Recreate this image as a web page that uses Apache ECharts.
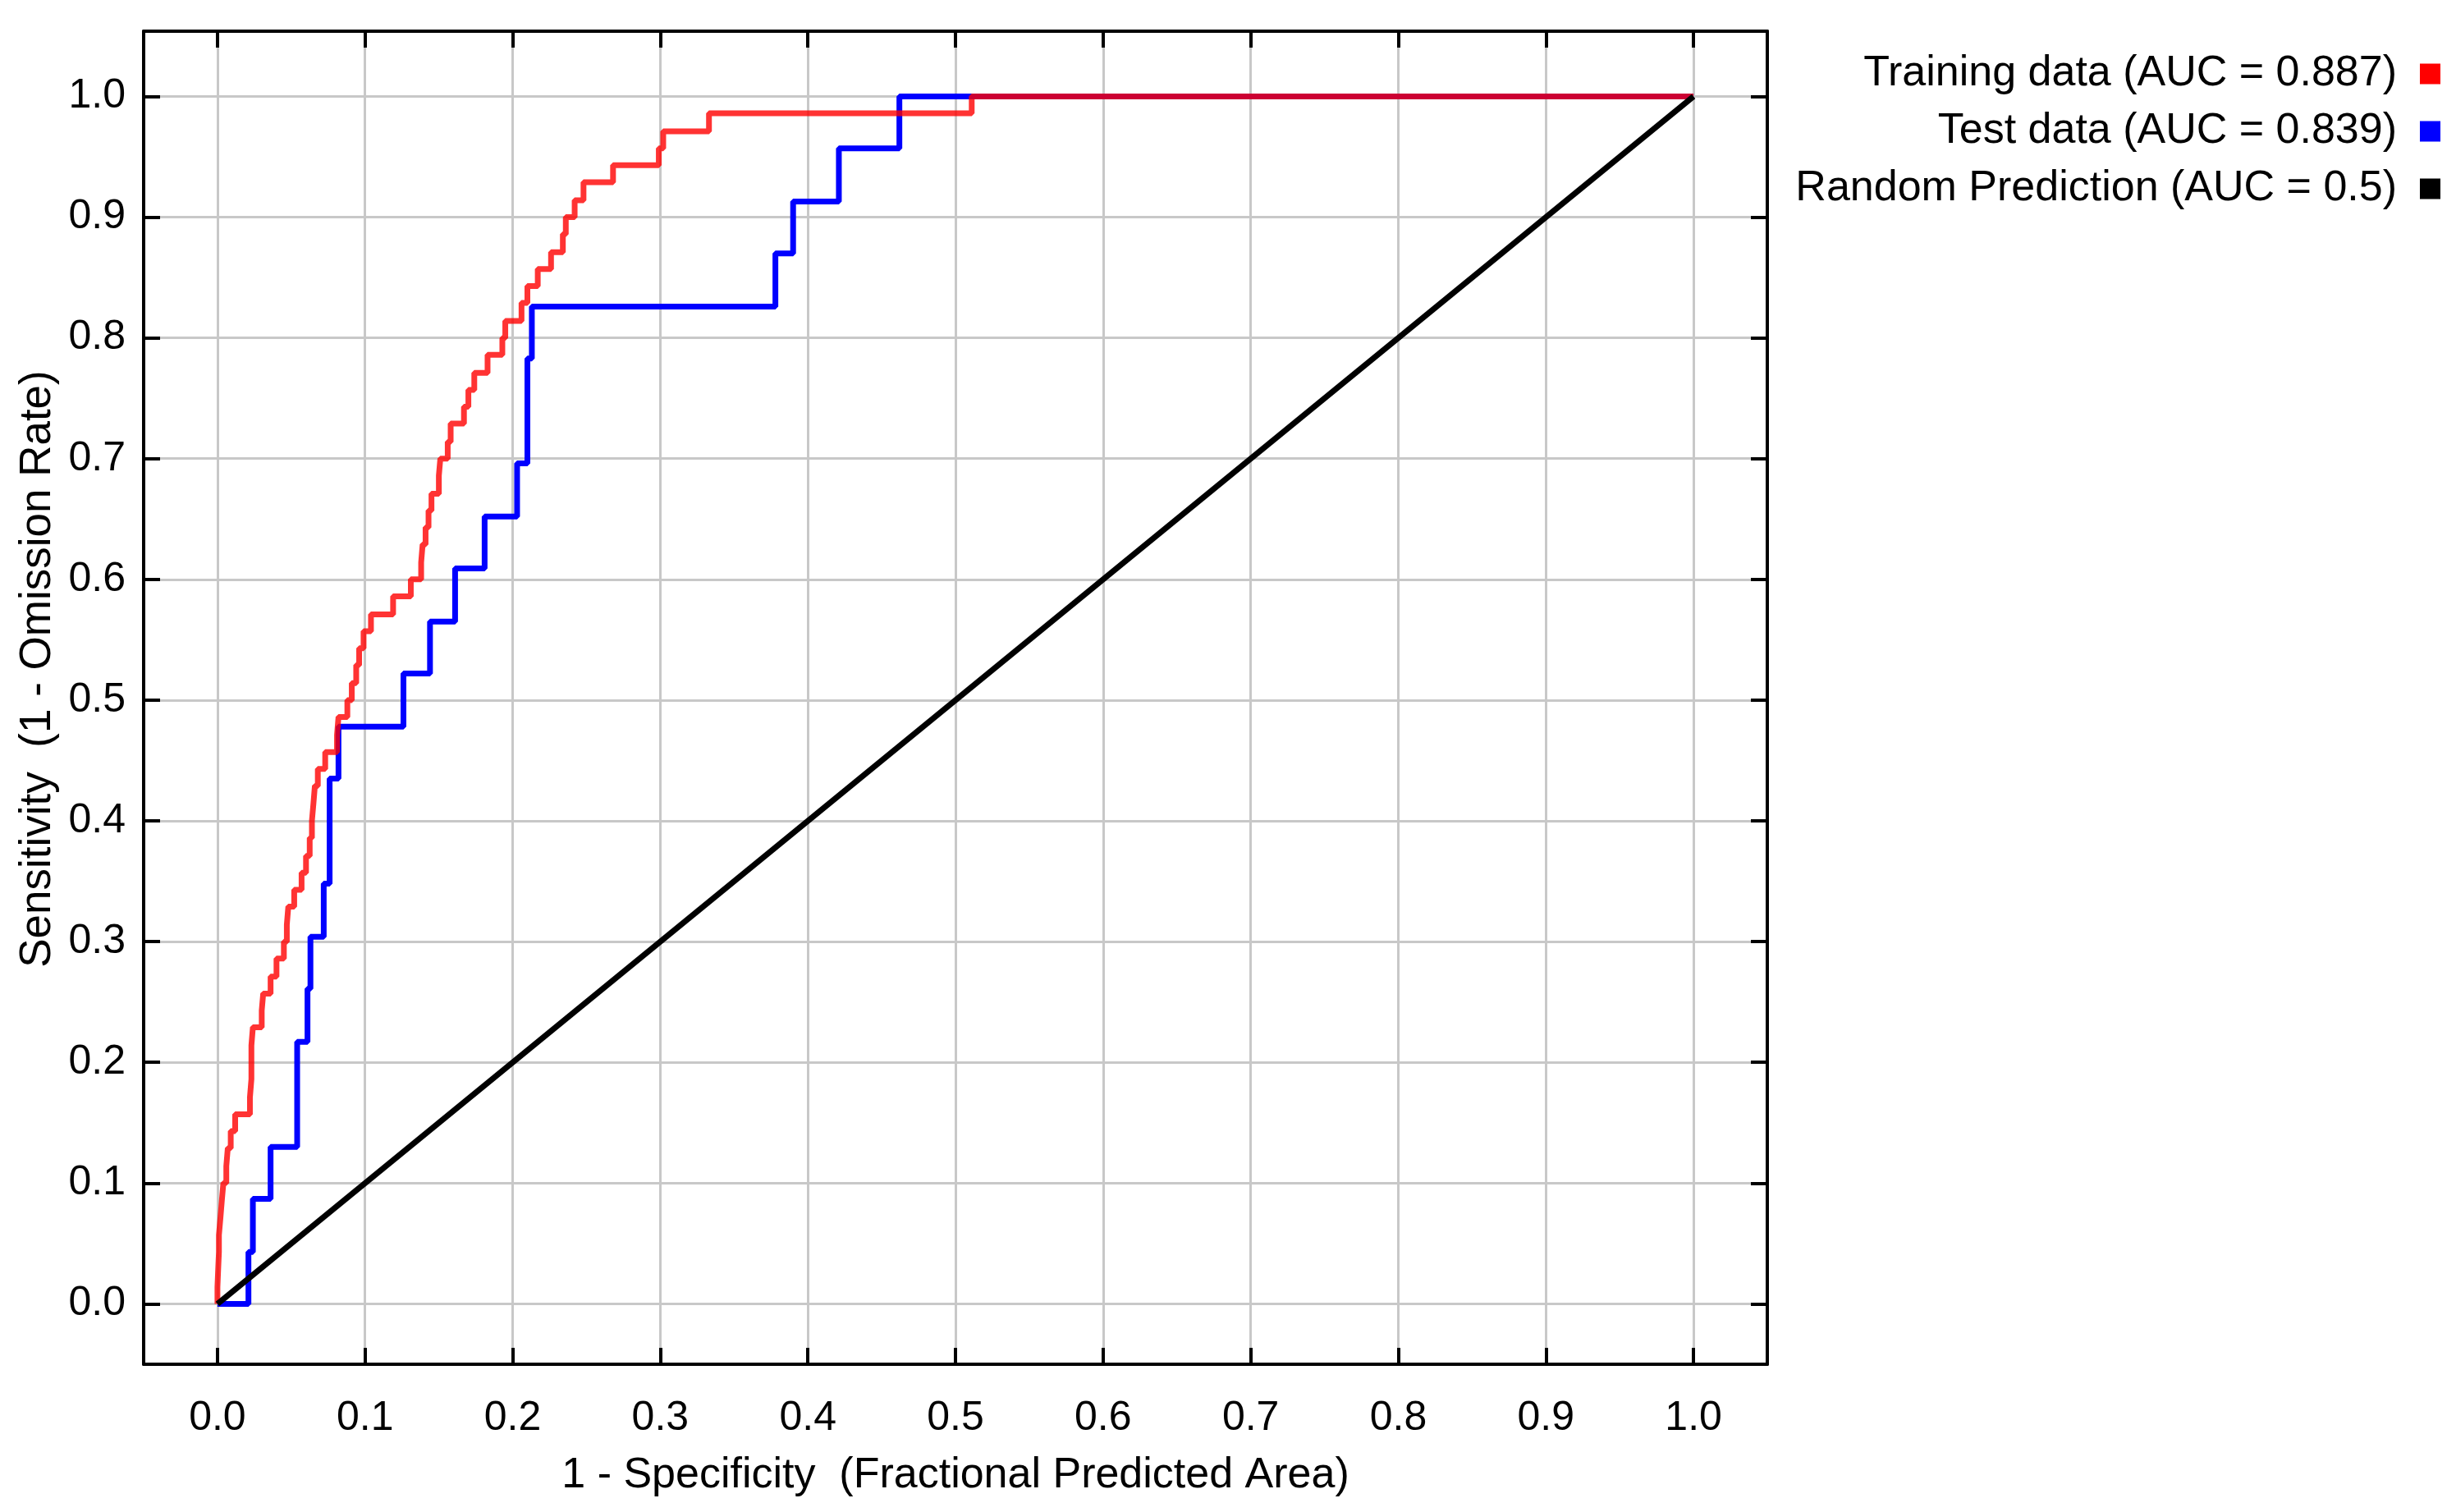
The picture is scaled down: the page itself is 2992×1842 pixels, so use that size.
<!DOCTYPE html>
<html>
<head>
<meta charset="utf-8">
<script src="https://cdn.jsdelivr.net/npm/echarts@6/dist/echarts.min.js"></script>
<style>html,body{margin:0;padding:0;background:#fff}#c{width:2992px;height:1842px}</style>
</head>
<body>
<div id="c"></div>
<script>
// Tick values (both axes)
const tickValues = [0, 0.1, 0.2, 0.3, 0.4, 0.5, 0.6, 0.7, 0.8, 0.9, 1.0];

// Series names
const seriesNames = ['Training data (AUC = 0.887)', 'Test data (AUC = 0.839)', 'Random Prediction (AUC = 0.5)'];

// Training ROC (1 - specificity, sensitivity), staircase vertices
const trainFpr = [0, 0, 0.0005, 0.001, 0.001, 0.002, 0.003, 0.004, 0.006, 0.007, 0.009, 0.012, 0.022, 0.023, 0.023, 0.023, 0.024, 0.030, 0.031, 0.036, 0.040, 0.045, 0.047, 0.048, 0.052, 0.057, 0.060, 0.0625, 0.064, 0.065, 0.066, 0.068, 0.073, 0.081, 0.082, 0.088, 0.091, 0.094, 0.096, 0.099, 0.104, 0.119, 0.131, 0.138, 0.139, 0.141, 0.143, 0.145, 0.150, 0.151, 0.156, 0.158, 0.167, 0.170, 0.174, 0.183, 0.193, 0.195, 0.206, 0.210, 0.217, 0.226, 0.234, 0.236, 0.242, 0.248, 0.268, 0.299, 0.302, 0.333, 0.511, 1.0];
const trainTpr = [0, 0.014, 0.029, 0.043, 0.057, 0.071, 0.086, 0.100, 0.114, 0.129, 0.143, 0.157, 0.171, 0.186, 0.200, 0.214, 0.229, 0.243, 0.257, 0.271, 0.286, 0.300, 0.314, 0.329, 0.343, 0.357, 0.371, 0.386, 0.400, 0.414, 0.429, 0.443, 0.457, 0.471, 0.486, 0.500, 0.514, 0.529, 0.543, 0.557, 0.571, 0.586, 0.600, 0.614, 0.629, 0.643, 0.657, 0.671, 0.686, 0.700, 0.714, 0.729, 0.743, 0.757, 0.771, 0.786, 0.800, 0.814, 0.829, 0.843, 0.857, 0.871, 0.886, 0.900, 0.914, 0.929, 0.943, 0.957, 0.971, 0.986, 1.000, 1.000];

// Test ROC
const testFpr = [0, 0.021, 0.024, 0.036, 0.054, 0.054, 0.061, 0.063, 0.072, 0.076, 0.076, 0.082, 0.126, 0.144, 0.161, 0.181, 0.203, 0.210, 0.210, 0.213, 0.378, 0.390, 0.421, 0.462, 1.0];
const testTpr = [0, 0.043, 0.087, 0.130, 0.174, 0.217, 0.261, 0.304, 0.348, 0.391, 0.435, 0.478, 0.522, 0.565, 0.609, 0.652, 0.696, 0.739, 0.783, 0.826, 0.870, 0.913, 0.957, 1.000, 1.000];

// Random prediction
const randomFpr = [0, 1];
const randomTpr = [0, 1];

const zip = (a, b) => a.map((v, i) => [v, b[i]]);
const FONT = "'Liberation Sans', Arial, sans-serif";

const chart = echarts.init(document.getElementById('c'), null, {renderer: 'canvas'});

const frameAxis = (pos, showLabel, range, margin, extra) => Object.assign({
  type: 'value', min: range[0], max: range[1], position: pos,
  axisLine: {show: true, onZero: false, lineStyle: {color: '#000', width: 4}},
  axisTick: {show: true, inside: true, length: 20, customValues: tickValues, lineStyle: {color: '#000', width: 4}},
  axisLabel: {show: showLabel, customValues: tickValues, formatter: v => v.toFixed(1), color: '#000', fontSize: 50, fontFamily: FONT, margin: margin},
  splitLine: {show: showLabel, lineStyle: {color: '#c8c8c8', width: 3}}
}, extra || {});

const xRange = [-0.05, 1.05];
const yRange = [-0.05, 1.054];

chart.setOption({
  animation: false,
  backgroundColor: '#fff',
  grid: {left: 175, right: 839, top: 38, bottom: 180, containLabel: false},
  legend: {
    data: [seriesNames[0], seriesNames[1], seriesNames[2]],
    orient: 'vertical', right: 14, top: 59, align: 'right', icon: 'rect',
    itemWidth: 25, itemHeight: 25, itemGap: 18,
    textStyle: {fontSize: 52, fontFamily: FONT, color: '#000', lineHeight: 52, padding: [0, 23, 0, 0]}
  },
  xAxis: [
    frameAxis('bottom', true, xRange, 41, {
      name: '1 - Specificity  (Fractional Predicted Area)', nameLocation: 'middle', nameGap: 110,
      nameTextStyle: {fontSize: 52, fontFamily: FONT, color: '#000'}
    }),
    frameAxis('top', false, xRange, 22)
  ],
  yAxis: [
    frameAxis('left', true, yRange, 22, {
      name: 'Sensitivity  (1 - Omission Rate)', nameLocation: 'middle', nameGap: 95,
      nameTextStyle: {fontSize: 53, fontFamily: FONT, color: '#000', padding: [0, 0, 0, 70]}
    }),
    frameAxis('right', false, yRange, 22)
  ],
  series: [
    {
      name: seriesNames[1], type: 'line', step: 'end', showSymbol: false, symbol: 'none',
      data: zip(testFpr, testTpr), xAxisIndex: 0, yAxisIndex: 0,
      itemStyle: {color: '#0000ff'}, lineStyle: {color: '#0000ff', width: 7}, z: 3
    },
    {
      name: seriesNames[0], type: 'line', step: 'end', showSymbol: false, symbol: 'none',
      data: zip(trainFpr, trainTpr), xAxisIndex: 0, yAxisIndex: 0,
      itemStyle: {color: '#ff0000'}, lineStyle: {color: 'rgba(255,0,0,0.8)', width: 7}, z: 4
    },
    {
      name: seriesNames[2], type: 'line', showSymbol: false, symbol: 'none',
      data: zip(randomFpr, randomTpr), xAxisIndex: 0, yAxisIndex: 0,
      itemStyle: {color: '#000000'}, lineStyle: {color: '#000000', width: 7}, z: 5
    }
  ]
});
</script>
</body>
</html>
